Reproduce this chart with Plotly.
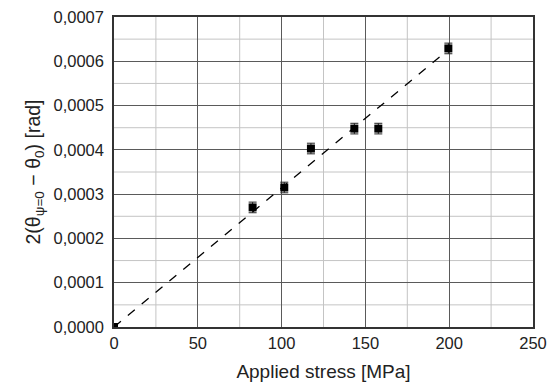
import plotly.graph_objects as go

# Measured lattice-strain shift versus applied stress
stress_mpa = [0, 82.7, 101.6, 117.5, 143.4, 157.7, 199.5]
shift_rad = [0.0, 0.000270, 0.000315, 0.000403, 0.000448, 0.000448, 0.000629]
shift_err = [0.0, 0.000012, 0.000012, 0.000012, 0.000012, 0.000012, 0.000012]

# Linear fit through the origin
fit_x = [0, 200]
fit_slope = 3.14e-6
fit_y = [fit_slope * v for v in fit_x]

x_ticks = [0, 50, 100, 150, 200, 250]
y_ticks = [0.0, 0.0001, 0.0002, 0.0003, 0.0004, 0.0005, 0.0006, 0.0007]
x_minor = [25, 75, 125, 175, 225]
y_minor = [0.00005, 0.00015, 0.00025, 0.00035, 0.00045, 0.00055, 0.00065]

fig = go.Figure()

fig.add_trace(go.Scatter(
    x=fit_x, y=fit_y, mode="lines",
    line=dict(color="black", width=1.3, dash="dash"),
    showlegend=False, hoverinfo="skip",
))

fig.add_trace(go.Scatter(
    x=stress_mpa, y=shift_rad, mode="markers",
    marker=dict(symbol="square", size=8, color="black"),
    error_y=dict(type="data", array=shift_err, visible=True,
                 color="#222222", thickness=1, width=4),
    showlegend=False,
))

# light minor grid lines
for v in x_minor:
    fig.add_shape(type="line", xref="x", yref="paper", x0=v, x1=v, y0=0, y1=1,
                  line=dict(color="#c4c4c4", width=1), layer="below")
for v in y_minor:
    fig.add_shape(type="line", xref="paper", yref="y", x0=0, x1=1, y0=v, y1=v,
                  line=dict(color="#c4c4c4", width=1), layer="below")

fig.update_layout(
    width=558, height=383,
    margin=dict(l=114, r=25, t=17, b=56),
    plot_bgcolor="white", paper_bgcolor="white",
    separators=",.",
    font=dict(family="Liberation Sans, Arial, sans-serif", color="#222222", size=16),
)

fig.update_xaxes(
    range=[0, 250], tickvals=x_ticks, ticks="", ticklen=0,
    showgrid=True, gridcolor="#5a5a5a", gridwidth=1,
    showline=True, linecolor="#333333", linewidth=1.5, mirror=True,
    zeroline=False, automargin=False,
    title=dict(text="Applied stress [MPa]", font=dict(size=19), standoff=14),
    tickfont=dict(size=16.5),
)

fig.update_yaxes(
    range=[0, 0.0007], tickvals=y_ticks, tickformat=".4f",
    ticks="", ticklen=0, ticklabelstandoff=5,
    showgrid=True, gridcolor="#5a5a5a", gridwidth=1,
    showline=True, linecolor="#333333", linewidth=1.5, mirror=True,
    zeroline=False, automargin=False,
    title=dict(text="2(θ<sub>ψ=0</sub> − θ<sub>0</sub>) [rad]", font=dict(size=19.5), standoff=8),
    tickfont=dict(size=16.5),
)

fig.write_html("out.html")
